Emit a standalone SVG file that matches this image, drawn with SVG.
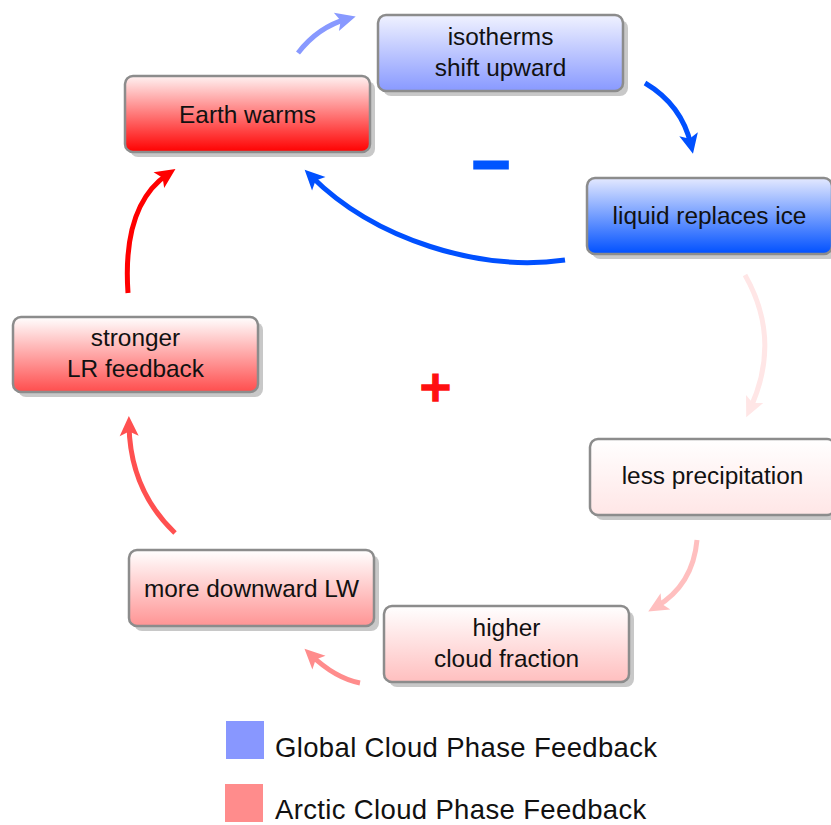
<svg xmlns="http://www.w3.org/2000/svg" width="831" height="825" viewBox="0 0 831 825">
<style>
.box{stroke:#8c8c8c;stroke-width:2.5}
.shadow{fill:#c8c8c8}
.lbl{font-family:"Liberation Sans",Arial,sans-serif;font-size:24.4px;fill:#111;text-anchor:middle}
.leg{font-family:"Liberation Sans",Arial,sans-serif;font-size:27.5px;fill:#111;letter-spacing:0.35px}
.arr{fill:none;stroke-width:5;stroke-linecap:butt}
</style>
<defs>
<linearGradient id="g-earth" x1="0" y1="0" x2="0" y2="1"><stop offset="0" stop-color="#fff2f2"/><stop offset="1" stop-color="#ff0000"/></linearGradient>
<linearGradient id="g-iso" x1="0" y1="0" x2="0" y2="1"><stop offset="0" stop-color="#f0f2ff"/><stop offset="1" stop-color="#8899ff"/></linearGradient>
<linearGradient id="g-liq" x1="0" y1="0" x2="0" y2="1"><stop offset="0" stop-color="#e4e9ff"/><stop offset="1" stop-color="#0050ff"/></linearGradient>
<linearGradient id="g-less" x1="0" y1="0" x2="0" y2="1"><stop offset="0" stop-color="#ffffff"/><stop offset="1" stop-color="#ffe6e6"/></linearGradient>
<linearGradient id="g-high" x1="0" y1="0" x2="0" y2="1"><stop offset="0" stop-color="#ffffff"/><stop offset="1" stop-color="#ffbfbf"/></linearGradient>
<linearGradient id="g-more" x1="0" y1="0" x2="0" y2="1"><stop offset="0" stop-color="#ffffff"/><stop offset="1" stop-color="#ff9494"/></linearGradient>
<linearGradient id="g-strong" x1="0" y1="0" x2="0" y2="1"><stop offset="0" stop-color="#ffffff"/><stop offset="1" stop-color="#ff4d4d"/></linearGradient>
<marker id="m-b1" markerUnits="userSpaceOnUse" markerWidth="40" markerHeight="40" refX="20" refY="20" orient="auto" overflow="visible"><path d="M29,20 L9,10.5 L13.5,20 L9,29.5 Z" fill="#8899ff"/></marker>
<marker id="m-b2" markerUnits="userSpaceOnUse" markerWidth="40" markerHeight="40" refX="20" refY="20" orient="auto" overflow="visible"><path d="M29,20 L9,10.5 L13.5,20 L9,29.5 Z" fill="#0050ff"/></marker>
<marker id="m-r10" markerUnits="userSpaceOnUse" markerWidth="40" markerHeight="40" refX="20" refY="20" orient="auto" overflow="visible"><path d="M29,20 L9,10.5 L13.5,20 L9,29.5 Z" fill="#ffe6e6"/></marker>
<marker id="m-r25" markerUnits="userSpaceOnUse" markerWidth="40" markerHeight="40" refX="20" refY="20" orient="auto" overflow="visible"><path d="M29,20 L9,10.5 L13.5,20 L9,29.5 Z" fill="#ffbfbf"/></marker>
<marker id="m-r45" markerUnits="userSpaceOnUse" markerWidth="40" markerHeight="40" refX="20" refY="20" orient="auto" overflow="visible"><path d="M29,20 L9,10.5 L13.5,20 L9,29.5 Z" fill="#ff8c8c"/></marker>
<marker id="m-r70" markerUnits="userSpaceOnUse" markerWidth="40" markerHeight="40" refX="20" refY="20" orient="auto" overflow="visible"><path d="M29,20 L9,10.5 L13.5,20 L9,29.5 Z" fill="#ff5050"/></marker>
<marker id="m-r100" markerUnits="userSpaceOnUse" markerWidth="40" markerHeight="40" refX="20" refY="20" orient="auto" overflow="visible"><path d="M29,20 L9,10.5 L13.5,20 L9,29.5 Z" fill="#ff0000"/></marker>
</defs>
<rect width="831" height="825" fill="#ffffff"/>

<g id="connectors">
<path class="arr" stroke="#8899ff" marker-end="url(#m-b1)" d="M298,53 Q318,27 347,19"/>
<path class="arr" stroke="#0050ff" marker-end="url(#m-b2)" d="M645,83 Q682,105 691,145"/>
<path class="arr" stroke="#0050ff" marker-end="url(#m-b2)" d="M565,260 C480,272 375,240 311,176"/>
<path class="arr" stroke="#ffe6e6" marker-end="url(#m-r10)" d="M745,275 Q782,340 750,409"/>
<path class="arr" stroke="#ffbfbf" marker-end="url(#m-r25)" d="M697,540 Q693,585 656,607"/>
<path class="arr" stroke="#ff8c8c" marker-end="url(#m-r45)" d="M360,683 Q335,678 311,655"/>
<path class="arr" stroke="#ff5050" marker-end="url(#m-r70)" d="M175,533 Q130,490 129,425"/>
<path class="arr" stroke="#ff0000" marker-end="url(#m-r100)" d="M128,293 Q122,205 168,174"/>
</g>

<g id="earth-warms">
<rect class="shadow" x="130" y="81" width="245" height="76" rx="8"/>
<rect class="box" x="125" y="76" width="245" height="76" rx="8" fill="url(#g-earth)"/>
<text class="lbl" x="247.5" y="123">Earth warms</text>
</g>
<g id="isotherms">
<rect class="shadow" x="383" y="20" width="245" height="76" rx="8"/>
<rect class="box" x="378" y="15" width="245" height="76" rx="8" fill="url(#g-iso)"/>
<text class="lbl" x="500.5" y="45">isotherms</text>
<text class="lbl" x="500.5" y="76">shift upward</text>
</g>
<g id="liquid">
<rect class="shadow" x="592" y="183" width="245" height="76" rx="8"/>
<rect class="box" x="587" y="178" width="245" height="76" rx="8" fill="url(#g-liq)"/>
<text class="lbl" x="709.5" y="224">liquid replaces ice</text>
</g>
<g id="less-precip">
<rect class="shadow" x="595" y="444" width="245" height="76" rx="8"/>
<rect class="box" x="590" y="439" width="245" height="76" rx="8" fill="url(#g-less)"/>
<text class="lbl" x="712.5" y="484">less precipitation</text>
</g>
<g id="higher-cloud">
<rect class="shadow" x="389" y="611" width="245" height="76" rx="8"/>
<rect class="box" x="384" y="606" width="245" height="76" rx="8" fill="url(#g-high)"/>
<text class="lbl" x="506.5" y="636">higher</text>
<text class="lbl" x="506.5" y="667">cloud fraction</text>
</g>
<g id="more-lw">
<rect class="shadow" x="134" y="555" width="245" height="76" rx="8"/>
<rect class="box" x="129" y="550" width="245" height="76" rx="8" fill="url(#g-more)"/>
<text class="lbl" x="251.5" y="596.5">more downward LW</text>
</g>
<g id="stronger-lr">
<rect class="shadow" x="18" y="322" width="245" height="75" rx="8"/>
<rect class="box" x="13" y="317" width="245" height="75" rx="8" fill="url(#g-strong)"/>
<text class="lbl" x="135.5" y="345.5">stronger</text>
<text class="lbl" x="135.5" y="377">LR feedback</text>
</g>

<g id="signs">
<text x="491" y="181" font-family="DejaVu Sans,sans-serif" font-weight="bold" font-size="52" fill="#0055ff" stroke="#0055ff" stroke-width="3" text-anchor="middle">−</text>
<text x="435.5" y="401" font-family="DejaVu Sans,sans-serif" font-weight="bold" font-size="43" fill="#ff1010" stroke="#ff1010" stroke-width="1.5" text-anchor="middle">+</text>
</g>

<g id="legend">
<rect x="226" y="721" width="38" height="38" fill="#8897ff"/>
<text class="leg" x="275" y="757">Global Cloud Phase Feedback</text>
<rect x="225" y="784" width="38" height="38" fill="#ff8c8c"/>
<text class="leg" x="275" y="819">Arctic Cloud Phase Feedback</text>
</g>
</svg>
